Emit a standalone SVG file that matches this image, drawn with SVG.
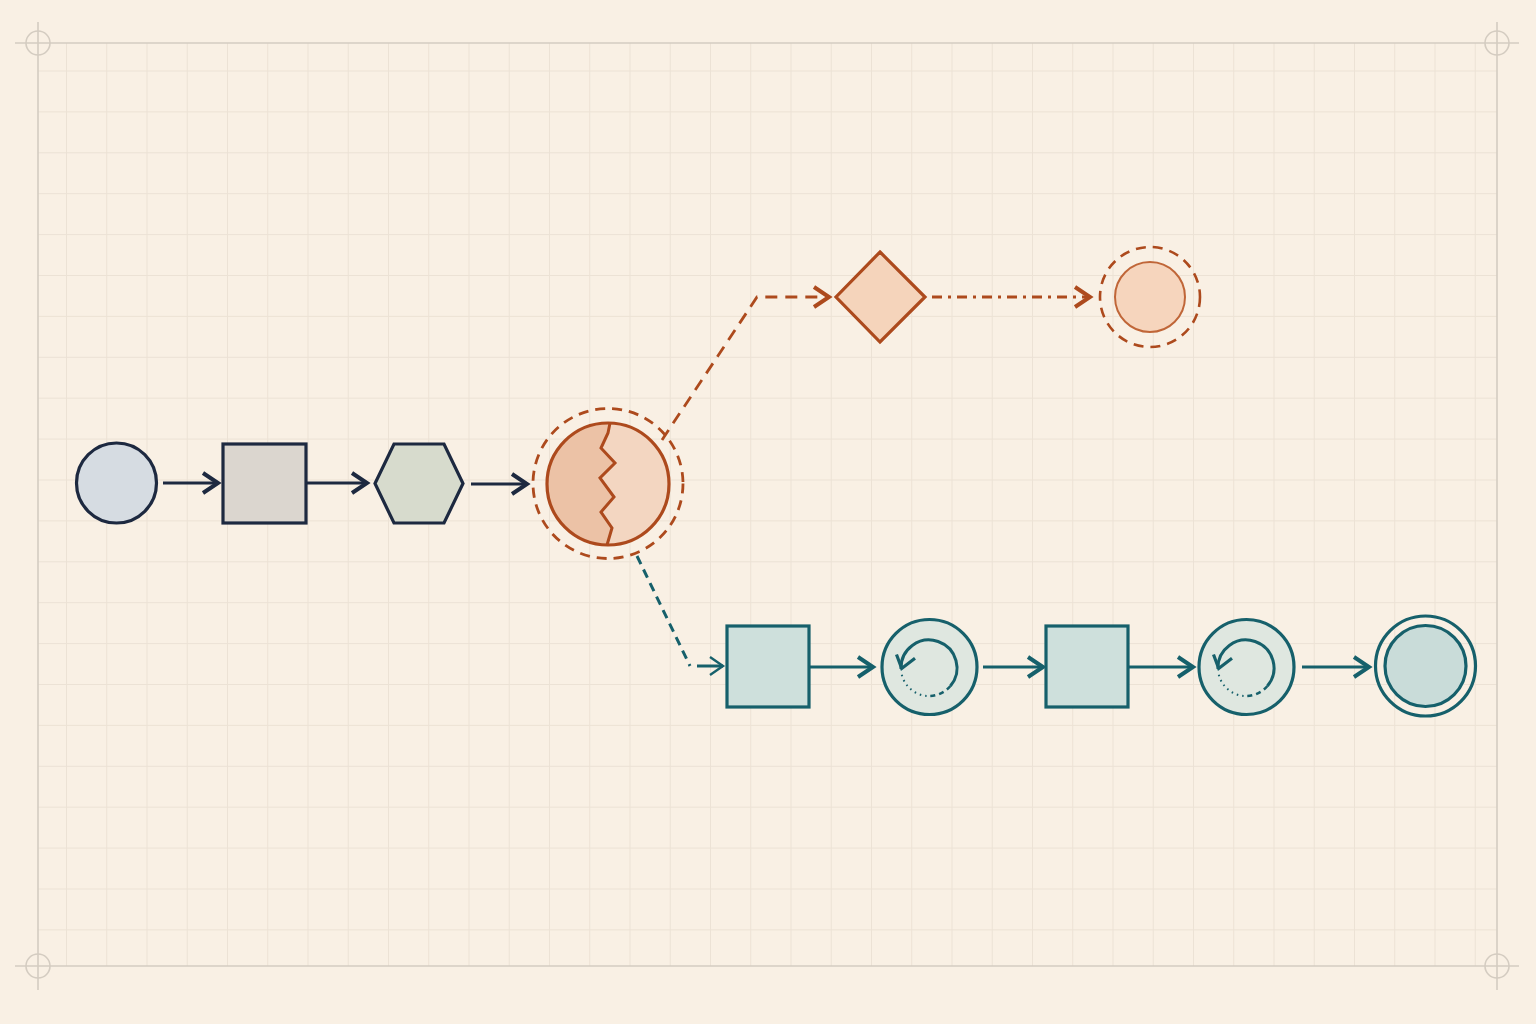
<svg xmlns="http://www.w3.org/2000/svg" width="1536" height="1024" viewBox="0 0 1536 1024">
<style>
.grid{stroke:#ece2d5;stroke-width:1;fill:none}
.frame{stroke:#d4ccc1;stroke-width:1.6;fill:none}
.navy{stroke:#1d2940;stroke-width:3.2;}
.rust{stroke:#ad4a1d;stroke-width:3.2;}
.teal{stroke:#16606b;stroke-width:3.2;}
.conn-navy{stroke:#1d2940;stroke-width:3;fill:none}
.conn-teal{stroke:#16606b;stroke-width:3;fill:none}
.conn-rust{stroke:#ad4a1d;stroke-width:2.8;fill:none}
</style>
<defs>
<marker id="ahNavy" viewBox="0 0 24 24" refX="20" refY="12" markerWidth="24" markerHeight="24" markerUnits="userSpaceOnUse" orient="auto">
<path d="M5,2 L20,12 L5,22" fill="none" stroke="#1d2940" stroke-width="4" stroke-linejoin="miter"/>
</marker>
<marker id="ahTeal" viewBox="0 0 24 24" refX="20" refY="12" markerWidth="24" markerHeight="24" markerUnits="userSpaceOnUse" orient="auto">
<path d="M5,2 L20,12 L5,22" fill="none" stroke="#16606b" stroke-width="4" stroke-linejoin="miter"/>
</marker>
<marker id="ahTealThin" viewBox="0 0 24 24" refX="20" refY="12" markerWidth="24" markerHeight="24" markerUnits="userSpaceOnUse" orient="auto">
<path d="M7,3 L20,12 L7,21" fill="none" stroke="#16606b" stroke-width="2.4"/>
</marker>
<marker id="ahRust" viewBox="0 0 24 24" refX="20" refY="12" markerWidth="24" markerHeight="24" markerUnits="userSpaceOnUse" orient="auto">
<path d="M5,2 L20,12 L5,22" fill="none" stroke="#ad4a1d" stroke-width="4" stroke-linejoin="miter"/>
</marker>
<clipPath id="bigClip"><circle cx="608" cy="484" r="61"/></clipPath>
<g id="loopInner">
<path d="M950.4,686 A28,28 0 1 0 901,669" fill="none" stroke="#16606b" stroke-width="3"/>
<path d="M950.4,686 A28,28 0 0 1 926.6,695.9" fill="none" stroke="#16606b" stroke-width="2.5" stroke-dasharray="5 4"/>
<path d="M926.6,695.9 A28,28 0 0 1 901.4,672.9" fill="none" stroke="#16606b" stroke-width="2" stroke-dasharray="1.5 4"/>
<path d="M896.5,654.5 L901.7,668.5 L915,658.3" fill="none" stroke="#16606b" stroke-width="3.2" stroke-linejoin="miter"/>
</g>
</defs>

<rect x="0" y="0" width="1536" height="1024" fill="#f9f0e4"/>

<g id="grid">
<path class="grid" d="M66.5,43V966M106.75,43V966M147,43V966M187.25,43V966M227.5,43V966M267.75,43V966M308,43V966M348.25,43V966M388.5,43V966M428.75,43V966M469,43V966M509.25,43V966M549.5,43V966M589.75,43V966M630,43V966M670.25,43V966M710.5,43V966M750.75,43V966M791,43V966M831.25,43V966M871.5,43V966M911.75,43V966M952,43V966M992.25,43V966M1032.5,43V966M1072.75,43V966M1113,43V966M1153.25,43V966M1193.5,43V966M1233.75,43V966M1274,43V966M1314.25,43V966M1354.5,43V966M1394.75,43V966M1435,43V966M1475.25,43V966"/>
<path class="grid" d="M38,71H1497M38,111.9H1497M38,152.8H1497M38,193.7H1497M38,234.6H1497M38,275.5H1497M38,316.4H1497M38,357.3H1497M38,398.2H1497M38,439.1H1497M38,480H1497M38,520.9H1497M38,561.8H1497M38,602.7H1497M38,643.6H1497M38,684.5H1497M38,725.4H1497M38,766.3H1497M38,807.2H1497M38,848.1H1497M38,889H1497M38,929.9H1497"/>
<path class="frame" d="M15,43H1519M15,966H1519M38,22V990M1497,22V990"/>
<g class="frame" stroke-width="1.2">
<circle cx="38" cy="43" r="12"/>
<circle cx="1497" cy="43" r="12"/>
<circle cx="38" cy="966" r="12"/>
<circle cx="1497" cy="966" r="12"/>
</g>
</g>

<g id="connectors">
<line class="conn-navy" x1="163" y1="483" x2="218" y2="483" marker-end="url(#ahNavy)"/>
<line class="conn-navy" x1="306" y1="483" x2="367" y2="483" marker-end="url(#ahNavy)"/>
<line class="conn-navy" x1="471" y1="484" x2="527" y2="484" marker-end="url(#ahNavy)"/>
<path class="conn-rust" d="M662,440 L757,297 L829,297" stroke-dasharray="12 8" marker-end="url(#ahRust)"/>
<path class="conn-rust" d="M932,297 L1090,297" stroke-dasharray="10 6 3 6" marker-end="url(#ahRust)"/>
<path class="conn-teal" d="M637,556 L690,666" stroke-width="2.6" stroke-dasharray="9 6"/>
<line class="conn-teal" x1="697" y1="666" x2="723" y2="666" stroke-width="2.2" marker-end="url(#ahTealThin)"/>
<line class="conn-teal" x1="809" y1="667" x2="873" y2="667" marker-end="url(#ahTeal)"/>
<line class="conn-teal" x1="983" y1="667" x2="1043" y2="667" marker-end="url(#ahTeal)"/>
<line class="conn-teal" x1="1128" y1="667" x2="1193" y2="667" marker-end="url(#ahTeal)"/>
<line class="conn-teal" x1="1302" y1="667" x2="1369" y2="667" marker-end="url(#ahTeal)"/>
</g>

<g id="n-start">
<circle class="navy" cx="116.5" cy="483" r="40" fill="#d6dce2"/>
</g>
<g id="n-square">
<rect class="navy" x="223" y="444" width="83" height="79" fill="#dbd6cf"/>
</g>
<g id="n-hexagon">
<polygon class="navy" points="375,483.5 394,444 444,444 463,483.5 444,523 394,523" fill="#d7dbcd"/>
</g>

<g id="n-split">
<circle cx="608" cy="483.5" r="75" fill="none" stroke="#ad4a1d" stroke-width="2.8" stroke-dasharray="10 7"/>
<circle cx="608" cy="484" r="61" fill="#f3d6c1"/>
<polygon clip-path="url(#bigClip)" points="540,420 610,420 608,433 601,448 615,463 600,478 614,497 601,512 612,528 607,550 540,550" fill="#ecc2a6"/>
<polyline points="610,423 608,433 601,448 615,463 600,478 614,497 601,512 612,528 607,545" fill="none" stroke="#ad4a1d" stroke-width="3" stroke-linejoin="miter"/>
<circle class="rust" cx="608" cy="484" r="61" fill="none"/>
</g>

<g id="n-diamond">
<polygon class="rust" points="880,252 925,297 880,342 836,297" fill="#f5d4bb"/>
</g>

<g id="n-target">
<circle cx="1150" cy="297" r="50" fill="none" stroke="#ad4a1d" stroke-width="2.6" stroke-dasharray="10 7"/>
<circle cx="1150" cy="297" r="35" fill="#f6d5bd" stroke="#c06638" stroke-width="2"/>
</g>

<g id="n-task1">
<rect class="teal" x="727" y="626" width="82" height="81" fill="#cee0dc"/>
</g>
<g id="n-loop1">
<circle class="teal" cx="929.5" cy="667" r="47.5" fill="#dfe7e0"/>
<use href="#loopInner"/>
</g>
<g id="n-task2">
<rect class="teal" x="1046" y="626" width="82" height="81" fill="#cee0dc"/>
</g>
<g id="n-loop2">
<circle class="teal" cx="1246.5" cy="667" r="47.5" fill="#dfe7e0"/>
<use href="#loopInner" transform="translate(317,0)"/>
</g>
<g id="n-end">
<circle class="teal" cx="1425.5" cy="666" r="50" fill="none"/>
<circle class="teal" cx="1425.5" cy="666" r="40.5" fill="#c9dcd9"/>
</g>
</svg>
